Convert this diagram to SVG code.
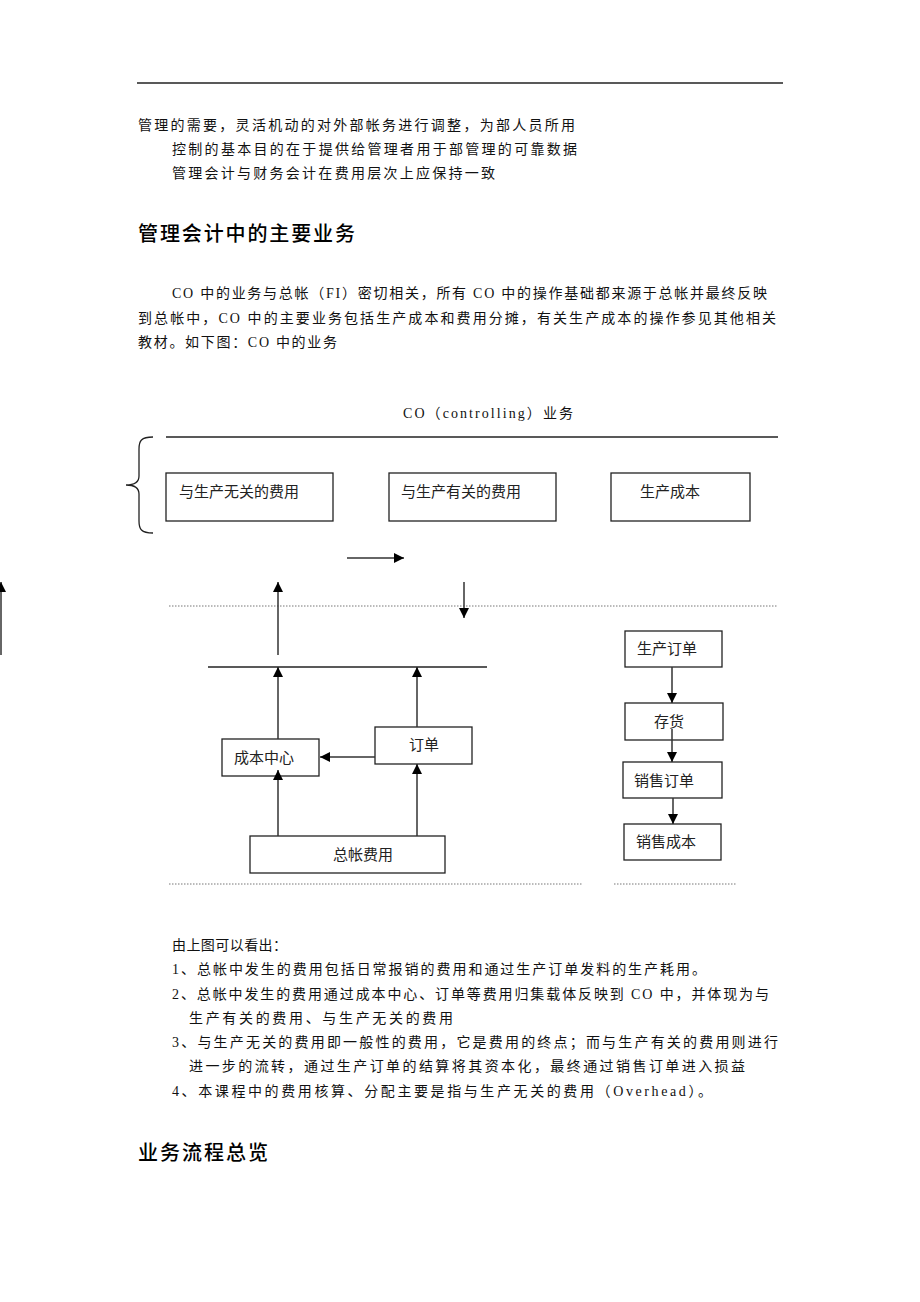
<svg xmlns="http://www.w3.org/2000/svg" width="920" height="1302" viewBox="0 0 920 1302">
<defs>
<marker id="ah" viewBox="0 0 10 10" refX="10" refY="5" markerWidth="10" markerHeight="10" markerUnits="userSpaceOnUse" orient="auto">
<path d="M0,0 L10,5 L0,10 z" fill="#000"/>
</marker>
<style>
.t{font-family:"Liberation Serif","Noto Sans CJK SC",serif;font-size:14px;fill:#111}
.h{font-family:"Liberation Serif","Noto Sans CJK SC",serif;font-size:20px;fill:#000;font-weight:500}
.bl{font-family:"Liberation Sans","Noto Sans CJK SC",sans-serif;font-size:15px;fill:#222}
.box{fill:#fff;stroke:#222;stroke-width:1.3}
.c{stroke:#333;stroke-width:1.5;fill:none}
.ca{stroke:#333;stroke-width:1.5;fill:none;marker-end:url(#ah)}
.dot{stroke:#777;stroke-width:1;stroke-dasharray:1.5 1.5}
.rule{stroke:#222;stroke-width:1.3}
</style>
</defs>
<rect width="920" height="1302" fill="#fff"/>
<line class="rule" x1="137" y1="83" x2="783" y2="83"/>
<g id="text-top">
<text class="t" x="138" y="130" textLength="437" lengthAdjust="spacing">管理的需要，灵活机动的对外部帐务进行调整，为部人员所用</text>
<text class="t" x="172" y="154" textLength="405" lengthAdjust="spacing">控制的基本目的在于提供给管理者用于部管理的可靠数据</text>
<text class="t" x="172" y="178" textLength="323" lengthAdjust="spacing">管理会计与财务会计在费用层次上应保持一致</text>
<text class="h" x="138" y="241" textLength="217" lengthAdjust="spacing">管理会计中的主要业务</text>
<text class="t" x="172" y="298" textLength="595" lengthAdjust="spacing">CO 中的业务与总帐（FI）密切相关，所有 CO 中的操作基础都来源于总帐并最终反映</text>
<text class="t" x="138" y="323" textLength="638" lengthAdjust="spacing">到总帐中，CO 中的主要业务包括生产成本和费用分摊，有关生产成本的操作参见其他相关</text>
<text class="t" x="138" y="347" textLength="199" lengthAdjust="spacing">教材。如下图：CO 中的业务</text>
</g>
<g id="title">
<text class="t" x="403" y="418" textLength="170" lengthAdjust="spacing">CO（controlling）业务</text>
<line class="rule" x1="166" y1="437" x2="778" y2="437"/>
<path d="M153,437 C141,437 139,441 139,449 L139,476 C139,482 135,485 126,485 C135,485 139,488 139,494 L139,521 C139,529 141,533 153,533" fill="none" stroke="#222" stroke-width="1.3"/>
</g>
<g id="n-unrelated"><rect class="box" x="166" y="473" width="167" height="48"/><text class="bl" x="179" y="497">与生产无关的费用</text></g>
<g id="n-related"><rect class="box" x="389" y="473" width="167" height="48"/><text class="bl" x="401" y="497">与生产有关的费用</text></g>
<g id="n-prodcost"><rect class="box" x="611" y="473" width="139" height="48"/><text class="bl" x="640" y="497">生产成本</text></g>
<g id="dots">
<line class="dot" x1="169" y1="606" x2="778" y2="606"/>
<line class="dot" x1="169" y1="884" x2="582" y2="884"/>
<line class="dot" x1="614" y1="884" x2="736" y2="884"/>
</g>
<line class="rule" x1="208" y1="667" x2="487" y2="667"/>
<g id="n-costcenter"><rect class="box" x="222" y="739" width="97" height="37"/><text class="bl" x="234" y="763">成本中心</text></g>
<g id="n-order"><rect class="box" x="375" y="727" width="97" height="37"/><text class="bl" x="409" y="750">订单</text></g>
<g id="n-gl"><rect class="box" x="250" y="836" width="195" height="37"/><text class="bl" x="333" y="860">总帐费用</text></g>
<g id="n-po"><rect class="box" x="625" y="631" width="97" height="36"/><text class="bl" x="637" y="654">生产订单</text></g>
<g id="n-inv"><rect class="box" x="625" y="703" width="98" height="37"/><text class="bl" x="654" y="727">存货</text></g>
<g id="n-so"><rect class="box" x="623" y="762" width="99" height="36"/><text class="bl" x="634" y="786">销售订单</text></g>
<g id="n-cogs"><rect class="box" x="624" y="824" width="97" height="36"/><text class="bl" x="636" y="847">销售成本</text></g>
<g id="connectors">
<line class="ca" x1="347" y1="558" x2="404" y2="558"/>
<line class="ca" x1="1" y1="655" x2="1" y2="582"/>
<line class="ca" x1="278" y1="655" x2="278" y2="582"/>
<line class="ca" x1="464" y1="582" x2="464" y2="618"/>
<line class="ca" x1="278" y1="739" x2="278" y2="667"/>
<line class="ca" x1="417" y1="727" x2="417" y2="667"/>
<line class="ca" x1="375" y1="757" x2="320" y2="757"/>
<line class="ca" x1="278" y1="836" x2="278" y2="770"/>
<line class="ca" x1="417" y1="836" x2="417" y2="764"/>
<line class="ca" x1="672" y1="667" x2="672" y2="703"/>
<line class="ca" x1="672" y1="729" x2="672" y2="762"/>
<line class="ca" x1="673" y1="798" x2="673" y2="824"/>
</g>
<g id="text-bottom">
<text class="t" x="172" y="950" textLength="115" lengthAdjust="spacing">由上图可以看出：</text>
<text class="t" x="172" y="974" textLength="534" lengthAdjust="spacing">1、总帐中发生的费用包括日常报销的费用和通过生产订单发料的生产耗用。</text>
<text class="t" x="172" y="999" textLength="597" lengthAdjust="spacing">2、总帐中发生的费用通过成本中心、订单等费用归集载体反映到 CO 中，并体现为与</text>
<text class="t" x="189" y="1023" textLength="264" lengthAdjust="spacing">生产有关的费用、与生产无关的费用</text>
<text class="t" x="172" y="1047" textLength="606" lengthAdjust="spacing">3、与生产无关的费用即一般性的费用，它是费用的终点；而与生产有关的费用则进行</text>
<text class="t" x="189" y="1071" textLength="556" lengthAdjust="spacing">进一步的流转，通过生产订单的结算将其资本化，最终通过销售订单进入损益</text>
<text class="t" x="172" y="1096" textLength="540" lengthAdjust="spacing">4、本课程中的费用核算、分配主要是指与生产无关的费用（Overhead）。</text>
<text class="h" x="138" y="1160" textLength="130" lengthAdjust="spacing">业务流程总览</text>
</g>
</svg>
